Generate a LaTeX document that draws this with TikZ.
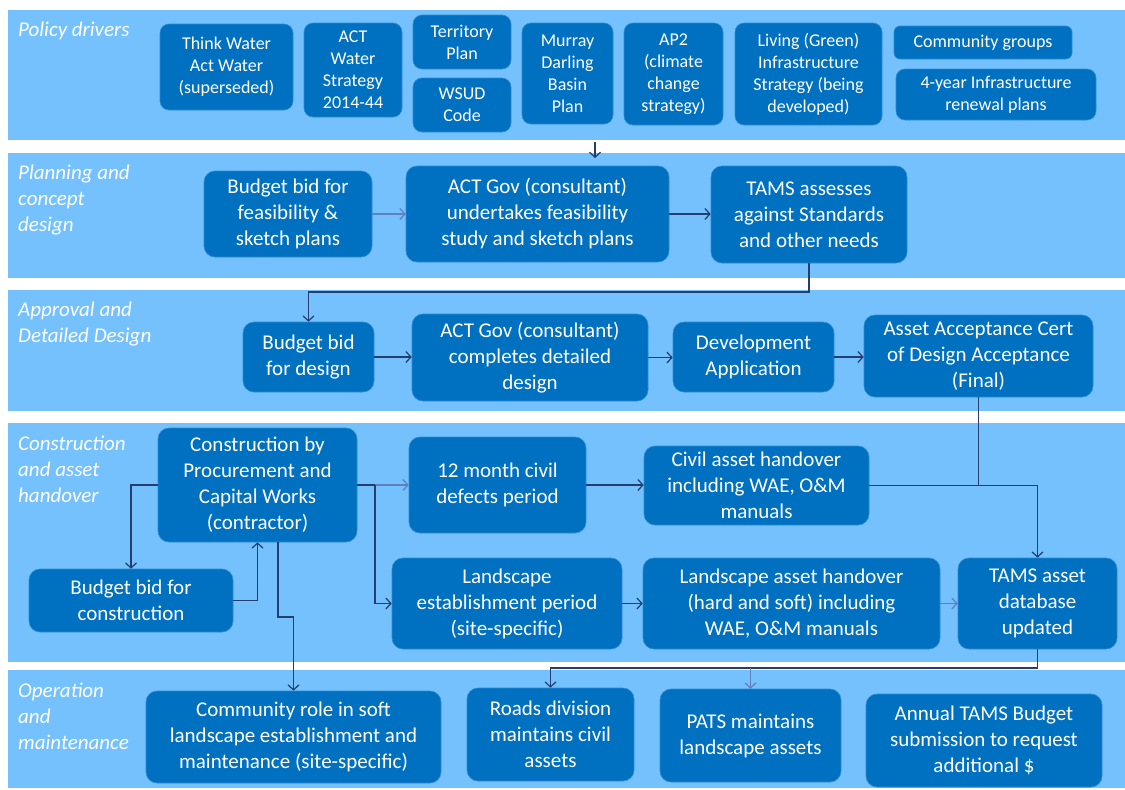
\documentclass[tikz,border=0pt]{standalone}
\usepackage{fontspec}
\setmainfont{Carlito}
\usetikzlibrary{arrows.meta}
\definecolor{bandC}{RGB}{117,193,253}
\definecolor{boxC}{RGB}{0,112,192}
\definecolor{boxEdge}{RGB}{45,140,212}
\definecolor{lineC}{RGB}{36,62,112}
\definecolor{lineL}{RGB}{95,128,188}
\begin{document}
\begin{tikzpicture}[x=1pt,y=-1pt,
  box/.style={draw=boxEdge, line width=0.6pt, fill=boxC, rounded corners=11pt, text=white, align=center, inner sep=2pt, font=\fontsize{21}{26}\selectfont},
  sbox/.style={box, font=\fontsize{18}{22}\selectfont, rounded corners=9pt},
  lab/.style={anchor=north west, inner sep=0pt, text=white, align=left, font=\fontsize{21}{26}\selectfont\itshape},
  conn/.style={draw=lineC, line width=1.2pt},
  arr/.style={conn, -{Straight Barb[length=5pt,width=11pt]}},
  arrL/.style={draw=lineL, line width=1.2pt, -{Straight Barb[length=5pt,width=11pt]}},
]
\useasboundingbox (0,0) rectangle (1125,790);
% bands
\fill[bandC] (8,10) rectangle (1125,140);
\fill[bandC] (8,153) rectangle (1125,278);
\fill[bandC] (8,290) rectangle (1125,411);
\fill[bandC] (8,423) rectangle (1125,662);
\fill[bandC] (8,670) rectangle (1125,788);
% labels
\node[lab] (l1) at (18,22) {Policy drivers};
\node[lab] (l2) at (18,165) {Planning and\\concept\\design};
\node[lab] (l3) at (18,302) {Approval and\\Detailed Design};
\node[lab] (l4) at (18,436) {Construction\\and asset\\handover};
\node[lab] (l5) at (18,683) {Operation\\and\\maintenance};
% band 1
\node[sbox, minimum width=133, minimum height=86] (tw) at (226.5,67) {Think Water\\Act Water\\(superseded)};
\node[sbox, minimum width=98, minimum height=94] (aws) at (353,70) {ACT\\Water\\Strategy\\2014-44};
\node[sbox, minimum width=98, minimum height=54] (tp) at (462,42) {Territory\\Plan};
\node[sbox, minimum width=98, minimum height=54] (wsud) at (462,105) {WSUD\\Code};
\node[sbox, minimum width=91, minimum height=101] (mdb) at (567.5,73.5) {Murray\\Darling\\Basin\\Plan};
\node[sbox, minimum width=99, minimum height=102] (ap2) at (673.5,74) {AP2\\(climate\\change\\strategy)};
\node[sbox, minimum width=147, minimum height=102] (lgi) at (808.5,74) {Living (Green)\\Infrastructure\\Strategy (being\\developed)};
\node[sbox, minimum width=178, minimum height=33, rounded corners=6pt] (cg) at (983,42.5) {Community groups};
\node[sbox, minimum width=200, minimum height=51] (fyi) at (996,94.5) {4-year Infrastructure\\renewal plans};
% band 2
\node[box, minimum width=168, minimum height=86] (bbf) at (288,214) {Budget bid for\\feasibility \&\\sketch plans};
\node[box, minimum width=263, minimum height=96] (agu) at (537.5,214) {ACT Gov (consultant)\\undertakes feasibility\\study and sketch plans};
\node[box, minimum width=196, minimum height=97] (tams) at (809,214.5) {TAMS assesses\\against Standards\\and other needs};
% band 3
\node[box, minimum width=131, minimum height=70] (bbd) at (308.5,357) {Budget bid\\for design};
\node[box, minimum width=236, minimum height=87] (agc) at (530,357.5) {ACT Gov (consultant)\\completes detailed\\design};
\node[box, minimum width=161, minimum height=70] (da) at (753.5,357) {Development\\Application};
\node[box, minimum width=229, minimum height=82] (aac) at (978.5,356) {Asset Acceptance Cert\\of Design Acceptance\\(Final)};
% band 4
\node[box, minimum width=199, minimum height=114] (cpc) at (257.5,485) {Construction by\\Procurement and\\Capital Works\\(contractor)};
\node[box, minimum width=204, minimum height=63] (bbc) at (131,600.5) {Budget bid for\\construction};
\node[box, minimum width=177, minimum height=96] (tmc) at (497.5,485) {12 month civil\\defects period};
\node[box, minimum width=230, minimum height=91] (les) at (507,603.5) {Landscape\\establishment period\\(site-specific)};
\node[box, minimum width=225, minimum height=79] (cah) at (756.5,485.5) {Civil asset handover\\including WAE, O\&M\\manuals};
\node[box, minimum width=297, minimum height=91] (lah) at (791.5,603.5) {Landscape asset handover\\(hard and soft) including\\WAE, O\&M manuals};
\node[box, minimum width=159, minimum height=91] (tdb) at (1037.5,603.5) {TAMS asset\\database\\updated};
% band 5
\node[box, minimum width=295, minimum height=92] (crs) at (293.5,737) {Community role in soft\\landscape establishment and\\maintenance (site-specific)};
\node[box, minimum width=167, minimum height=93] (rdm) at (550.5,734.5) {Roads division\\maintains civil\\assets};
\node[box, minimum width=181, minimum height=93] (pats) at (750.5,735.5) {PATS maintains\\landscape assets};
\node[box, minimum width=236, minimum height=93] (atb) at (984,740.5) {Annual TAMS Budget\\submission to request\\additional \$};
% helper coordinates
\coordinate (pa) at (595,142);
\coordinate (pb) at (595,158);
\coordinate (y1) at (0,292);
\coordinate (j2) at (375,485);
\coordinate (y2) at (0,617);
\coordinate (y3) at (0,668);
% connectors
\draw[arr] (pa) -- (pb);
\draw[arrL] (bbf.east) -- (agu.west |- bbf.east);
\draw[arr] (agu.east) -- (tams.west |- agu.east);
\draw[arr] (tams.south) |- (bbd.north |- y1) -- (bbd.north);
\draw[arr] (bbd.east) -- (agc.west |- bbd.east);
\draw[arr] (agc.east) -- (da.west |- agc.east);
\draw[arr] (da.east) -- (aac.west |- da.east);
\draw[conn] (aac.south) -- (aac.south |- cah.east);
\draw[arr] (cah.east) -| (tdb.north);
\draw[conn, line width=1.8pt] (cpc.east) -- (j2);
\draw[arrL] (j2) -- (tmc.west);
\draw[arr] (j2) |- (les.west);
\draw[arr] (cpc.west) -| (bbc.north);
\draw[arr] (bbc.east) -| (cpc.south);
\draw[arr] ([xshift=20.5pt]cpc.south) |- (crs.north |- y2) -- (crs.north);
\draw[arr] (tmc.east) -- (cah.west |- tmc.east);
\draw[arr] (les.east) -- (lah.west |- les.east);
\draw[arrL] (lah.east) -- (tdb.west |- lah.east);
\draw[arr] (tdb.south) |- (rdm.north |- y3) -- (rdm.north);
\draw[arrL] (pats.north |- y3) -- (pats.north);
\end{tikzpicture}
\end{document}
